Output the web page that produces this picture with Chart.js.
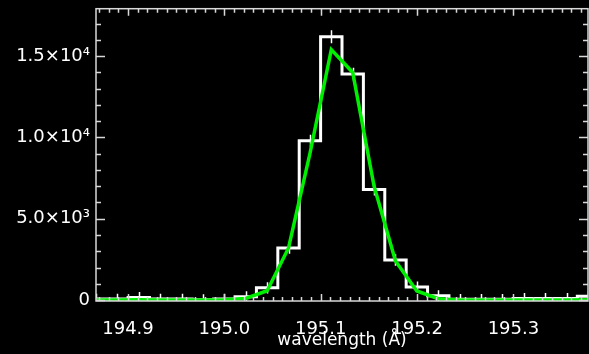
<!DOCTYPE html>
<html>
<head>
<meta charset="utf-8">
<script src="https://cdn.jsdelivr.net/npm/chart.js@4.4.1/dist/chart.umd.min.js"></script>
<style>
  html, body { margin: 0; padding: 0; background: #000; }
  #wrap { width: 589px; height: 354px; }
</style>
</head>
<body>
<div id="wrap"><canvas id="lineChart" width="589" height="354"></canvas></div>
<script>
// bin centres (A)
var wavelengths = [
  194.8668, 194.8890, 194.9112, 194.9334, 194.9556, 194.9778,
  195.0000, 195.0222, 195.0444, 195.0666, 195.0888, 195.1110,
  195.1332, 195.1554, 195.1776, 195.1998, 195.2220, 195.2442,
  195.2664, 195.2886, 195.3108, 195.3330, 195.3552, 195.3774
];
// observed counts (white histogram)
var counts = [
  60, 60, 150, 60, 60, 20,
  60, 200, 750, 3200, 9790, 16200,
  13900, 6800, 2460, 800, 260, 40,
  40, 40, 100, 100, 100, 230
];
var errors = [
  330, 330, 340, 330, 330, 330,
  330, 340, 350, 360, 380, 400,
  390, 370, 350, 340, 335, 330,
  330, 330, 335, 335, 335, 340
];
// gaussian fit (green)
var fitValues = [
  0, 0, 10, 0, 0, 0,
  20, 100, 570, 3200, 9000, 15400,
  14000, 7000, 2400, 560, 80, 0,
  0, 0, 0, 0, 0, 20
];
var xTicks = [194.9, 195.0, 195.1, 195.2, 195.3];
var yTicks = [0, 5000, 10000, 15000];
var yTickLabels = ['0', '5.0\u00d710\u00b3', '1.0\u00d710\u2074', '1.5\u00d710\u2074'];

var axisColor = '#d8d8d8';

var frameTicks = {
  id: 'frameTicks',
  beforeDatasetsDraw: function(chart) {
    // error bars under the lines
    var c = chart.ctx, a = chart.chartArea;
    var xs = chart.scales.x, ys = chart.scales.y;
    c.save();
    c.beginPath();
    c.rect(a.left, a.top, a.right - a.left, a.bottom - a.top);
    c.clip();
    c.strokeStyle = '#ffffff';
    c.lineWidth = 1.5;
    c.beginPath();
    for (var i = 0; i < counts.length; i++) {
      var px = Math.round(xs.getPixelForValue(wavelengths[i])) + 0.5;
      c.moveTo(px, ys.getPixelForValue(counts[i] + errors[i]));
      c.lineTo(px, ys.getPixelForValue(counts[i] - errors[i]));
    }
    c.stroke();
    c.restore();
  },
  afterDatasetsDraw: function(chart) {
    var c = chart.ctx, a = chart.chartArea;
    var xs = chart.scales.x, ys = chart.scales.y;
    c.save();
    c.strokeStyle = axisColor;
    c.lineWidth = 1.5;
    c.strokeRect(a.left, a.top, a.right - a.left, a.bottom - a.top);
    c.beginPath();
    // x ticks, every 0.01, major every 0.1
    for (var n = 19487; n <= 19537; n++) {
      var px = Math.round(xs.getPixelForValue(n / 100)) + 0.5;
      var len = (n % 10 === 0) ? 7 : 4;
      c.moveTo(px, a.bottom); c.lineTo(px, a.bottom - len);
      c.moveTo(px, a.top); c.lineTo(px, a.top + len);
    }
    // y ticks, every 1000, major every 5000
    for (var m = 0; m <= 17000; m += 1000) {
      var py = Math.round(ys.getPixelForValue(m)) + 0.5;
      var l2 = (m % 5000 === 0) ? 9 : 5;
      c.moveTo(a.left, py); c.lineTo(a.left + l2, py);
      c.moveTo(a.right, py); c.lineTo(a.right - l2, py);
    }
    c.stroke();
    c.restore();
  }
};

var ctx = document.getElementById('lineChart').getContext('2d');
var lineChart = new Chart(ctx, {
  type: 'line',
  data: {
    datasets: [{
      label: 'fit',
      data: wavelengths.map(function(w, i) { return { x: w, y: fitValues[i] }; }),
      borderColor: '#00ee00',
      borderWidth: 3.5,
      pointRadius: 0,
      tension: 0,
      order: 0
    }, {
      label: 'counts',
      data: wavelengths.map(function(w, i) { return { x: w, y: counts[i] }; }),
      borderColor: '#ffffff',
      borderWidth: 3,
      pointRadius: 0,
      stepped: 'middle',
      order: 1
    }]
  },
  options: {
    responsive: false,
    animation: false,
    layout: { padding: { top: 0, right: 1, left: 0, bottom: 0 } },
    plugins: { legend: { display: false }, tooltip: { enabled: false } },
    scales: {
      x: {
        type: 'linear',
        min: 194.8668,
        max: 195.3774,
        afterBuildTicks: function(scale) {
          scale.ticks = xTicks.map(function(v) { return { value: v }; });
        },
        afterFit: function(scale) { scale.height = 53; },
        grid: { display: false },
        border: { display: false },
        ticks: {
          color: '#ffffff',
          autoSkip: false,
          maxRotation: 0,
          padding: 10,
          font: { family: 'DejaVu Sans', size: 18 },
          callback: function(v) { return v.toFixed(1); }
        },
        title: {
          display: true,
          text: 'wavelength (\u00c5)',
          color: '#ffffff',
          padding: { top: 0, bottom: 3 },
          font: { family: 'DejaVu Sans', size: 17 }
        }
      },
      y: {
        min: -60,
        max: 17920,
        afterBuildTicks: function(scale) {
          scale.ticks = yTicks.map(function(v) { return { value: v }; });
        },
        afterFit: function(scale) { scale.width = 96; },
        grid: { display: false, drawTicks: false },
        border: { display: false },
        ticks: {
          color: '#ffffff',
          padding: 6,
          font: { family: 'DejaVu Sans', size: 18, lineHeight: 0.3 },
          callback: function(v) { return yTickLabels[yTicks.indexOf(v)]; }
        }
      }
    }
  },
  plugins: [frameTicks]
});
</script>
</body>
</html>
